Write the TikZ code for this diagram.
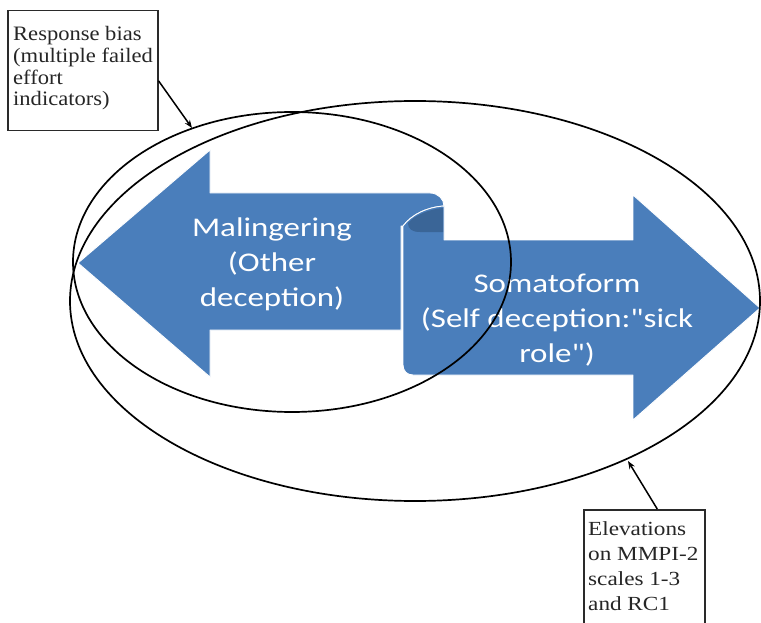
\documentclass[tikz,border=0pt]{standalone}
\usepackage{fontspec}
\usetikzlibrary{arrows.meta}
\newfontfamily\boxfont[FakeStretch=1.16]{Liberation Serif}
\newfontfamily\boxfontb[FakeStretch=1.1]{Liberation Serif}
\newfontfamily\ribfont[FakeStretch=1.22]{Carlito}
\definecolor{ribblue}{HTML}{4A7EBB}
\definecolor{ribdark}{HTML}{3A6597}
\definecolor{boxline}{HTML}{2A2A2A}
\tikzset{
  ribbon/.style={fill=ribblue, draw=white, line width=0.9pt, line join=round},
  ribback/.style={fill=ribdark},
  oval/.style={draw=black, line width=1.7pt},
  notebox/.style={draw=boxline, line width=1.5pt, fill=white, inner sep=0pt},
  notetext/.style={align=left, inner sep=0pt, anchor=base west, text=black!85},
  ribtext/.style={text=white, align=center, font=\ribfont\fontsize{27}{35}\selectfont},
  conn/.style={draw=black, line width=1.5pt, -{Stealth[length=8pt,width=6pt]}}
}
\begin{document}
\begin{tikzpicture}[x=1pt,y=-1pt]
\clip (0,0) rectangle (761,623);
\fill[white] (0,0) rectangle (761,623);
% left ribbon arrow (Malingering)
\path[ribbon] (78,263) -- (210,150) -- (210,193) -- (430,193)
  .. controls (438,193) and (444,199) .. (444,206)
  .. controls (428,207) and (412,214) .. (403,226)
  -- (401,226) -- (401,330) -- (210,330) -- (210,377) -- cycle;
% right ribbon arrow (Somatoform)
\path[ribbon] (403,226) .. controls (412,214) and (428,207) .. (444,206)
  -- (444,240) -- (633,240) -- (633,195) -- (760,308) -- (633,420)
  -- (633,375) -- (413,375) .. controls (407,375) and (403,371) .. (403,365) -- cycle;
% back of the curl
\fill[ribback] (443,208) .. controls (430,209) and (415,215) .. (408,223)
  .. controls (408,229) and (412,232) .. (420,232) -- (443,232) -- cycle;
% texts
\node[ribtext] (mal) at (272,264) {Malingering\\(Other\\deception)};
\node[ribtext] (som) at (557,320) {Somatoform\\(Self deception:"sick\\role")};
% ellipses
\draw[oval] (292,262) ellipse [x radius=219, y radius=150];
\draw[oval] (415,301) ellipse [x radius=345, y radius=200];
\coordinate (smtop) at (192,128);
\coordinate (bigbot) at (628,461);
% note boxes
\node[notebox, anchor=north west, minimum width=150pt, minimum height=120pt] (rb) at (7,10) {};
\node[notetext, font=\boxfontb\fontsize{20.5}{21.7}\selectfont] (rbt) at (13,106)
  {Response bias\\(multiple failed\\effort\\indicators)};
\node[notebox, anchor=north west, minimum width=121pt, minimum height=130pt] (el) at (583,509) {};
\node[notetext, font=\boxfont\fontsize{20}{25}\selectfont] (elt) at (588,610)
  {Elevations\\on MMPI-2\\scales 1-3\\and RC1};
% connectors
\draw[conn] ([yshift=-10pt]rb.east) -- (smtop);
\draw[conn] ([xshift=13pt]el.north) -- (bigbot);
\end{tikzpicture}
\end{document}
